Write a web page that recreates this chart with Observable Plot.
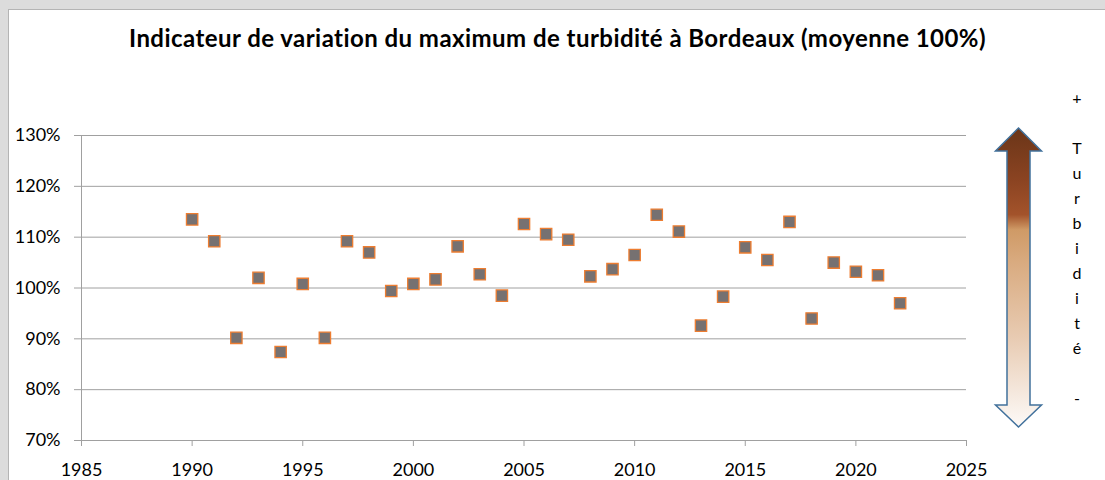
<!DOCTYPE html>
<html>
<head>
<meta charset="utf-8">
<script src="https://cdn.jsdelivr.net/npm/d3@7"></script>
<script src="https://cdn.jsdelivr.net/npm/@observablehq/plot@0.6"></script>
<style>
  html, body { margin: 0; padding: 0; }
  body { width: 1105px; height: 480px; background: #dcdcdc; position: relative; overflow: hidden;
         font-family: Lato, "Open Sans", sans-serif; }
  #panel { position: absolute; left: 8px; top: 9px; width: 1110px; height: 480px; background: #fff;
           border-left: 1px solid #b4b4b4; border-top: 1px solid #b4b4b4; }
  #title { position: absolute; left: 0; top: 23px; width: 1115px; text-align: center;
           font-weight: bold; font-size: 24px; letter-spacing: 0.45px; color: #000; white-space: nowrap; }
  #chart { position: absolute; left: 0; top: 60px; }
  #deco { position: absolute; left: 0; top: 0; }
</style>
</head>
<body>
<div id="panel"></div>
<div id="title">Indicateur de variation du maximum de turbidité à Bordeaux (moyenne 100%)</div>
<div id="chart"></div>
<svg id="deco" width="1105" height="480"></svg>
<script>
// ---- data ----
const years = [1990,1991,1992,1993,1994,1995,1996,1997,1998,1999,2000,2001,2002,2003,2004,2005,2006,2007,2008,2009,2010,2011,2012,2013,2014,2015,2016,2017,2018,2019,2020,2021,2022];
const values = [113.5,109.2,90.2,102.0,87.4,100.8,90.2,109.2,107.0,99.4,100.8,101.7,108.2,102.7,98.5,112.6,110.6,109.5,102.3,103.7,106.5,114.4,111.1,92.6,98.3,108.0,105.5,113.0,94.0,105.0,103.2,102.5,97.0];
const xTicks = [1985,1990,1995,2000,2005,2010,2015,2020,2025];
const yTicks = [70,80,90,100,110,120,130];
const arrowLabel = ["+","","T","u","r","b","i","d","i","t","é","","-"];

const data = years.map((y, i) => ({year: y, value: values[i]}));
const grid = "#a0a0a0";

const chart = Plot.plot({
  width: 1105,
  height: 420,
  marginTop: 75,
  marginBottom: 40,
  marginLeft: 81,
  marginRight: 139,
  style: {fontFamily: "Lato, 'Open Sans', sans-serif", fontSize: "18px", background: "transparent", color: "#000", overflow: "visible"},
  x: {domain: [1985, 2025]},
  y: {domain: [70, 130]},
  marks: [
    Plot.gridY(yTicks, {stroke: grid, strokeOpacity: 1}),
    Plot.axisY(yTicks, {tickSize: 7, tickPadding: 14, stroke: grid, fill: "#000", fontSize: 18, tickFormat: d => d + "%", label: null}),
    Plot.axisX(xTicks, {tickSize: 6, tickPadding: 17, stroke: grid, fill: "#000", fontSize: 18, tickFormat: d => String(d), label: null}),
    Plot.ruleX([1985], {stroke: grid}),
    Plot.ruleY([70], {stroke: grid}),
    Plot.dot(data, {x: "year", y: "value", symbol: "square", r: 6.4, fill: "#767171", stroke: "#ed7d31", strokeWidth: 1.3})
  ]
});
document.getElementById("chart").appendChild(chart);

// ---- decorative double arrow and vertical label ----
const svg = d3.select("#deco");
const defs = svg.append("defs");
const lg = defs.append("linearGradient").attr("id", "turb").attr("x1", 0).attr("y1", 0).attr("x2", 0).attr("y2", 1);
[[0, "#6a3518"], [0.18, "#8c4422"], [0.29, "#a3532b"], [0.34, "#cf9a66"], [0.45, "#d9ab80"], [0.7, "#e8cbb2"], [1, "#fdfaf8"]]
  .forEach(([o, c]) => lg.append("stop").attr("offset", o).attr("stop-color", c));
const cx = 1018.5, t = 128, hb = 151, bb = 405, b = 427, hw = 23, sw = 11.5;
svg.append("path")
  .attr("d", `M${cx},${t}L${cx+hw},${hb}L${cx+sw},${hb}L${cx+sw},${bb}L${cx+hw},${bb}L${cx},${b}L${cx-hw},${bb}L${cx-sw},${bb}L${cx-sw},${hb}L${cx-hw},${hb}Z`)
  .attr("fill", "url(#turb)")
  .attr("stroke", "#41719c")
  .attr("stroke-width", 1.5)
  .attr("stroke-linejoin", "miter");
svg.append("g")
  .attr("font-family", "Lato, 'Open Sans', sans-serif")
  .attr("font-size", 16)
  .attr("text-anchor", "middle")
  .selectAll("text").data(arrowLabel).join("text")
  .attr("x", 1077)
  .attr("y", (d, i) => 98 + i * 25)
  .attr("dy", "0.35em")
  .text(d => d);
</script>
</body>
</html>
